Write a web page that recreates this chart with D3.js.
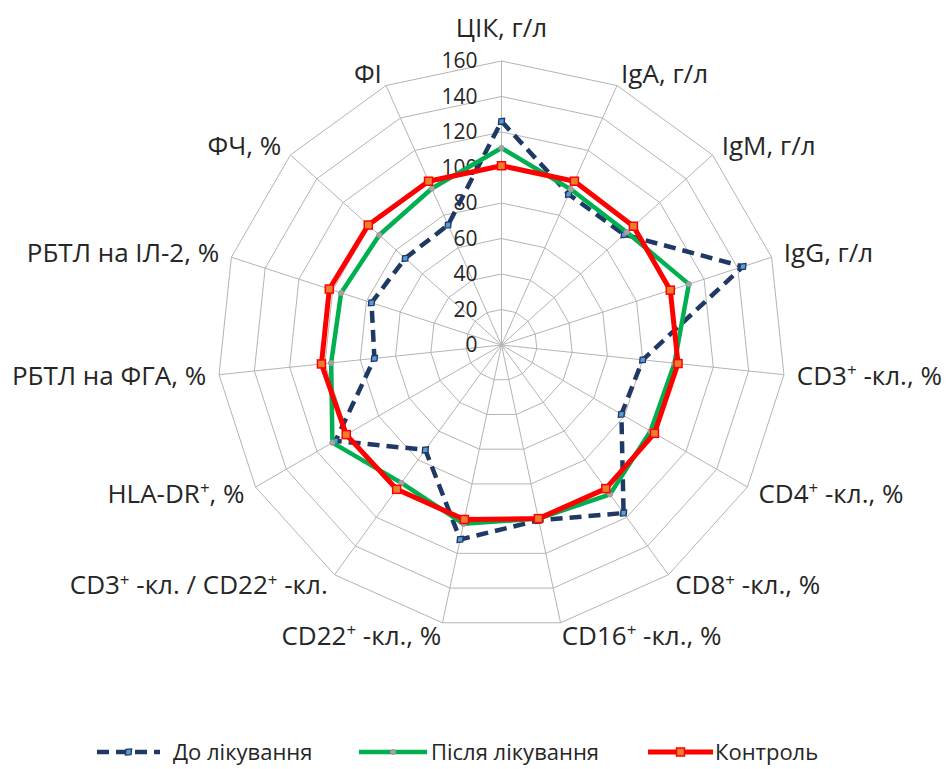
<!DOCTYPE html>
<html>
<head>
<meta charset="utf-8">
<script src="https://cdn.jsdelivr.net/npm/d3@7"></script>
<style>
  html, body { margin: 0; padding: 0; background: #ffffff; }
  svg text { font-family: "Open Sans", "Noto Sans", sans-serif; fill: #262626; }
</style>
</head>
<body>
<svg id="chart" width="950" height="769"></svg>
<script>
// Indicator axes, clockwise from the top
const categories = [
  "ЦІК, г/л", "IgA, г/л", "IgM, г/л", "IgG, г/л",
  "CD3+ -кл., %", "CD4+ -кл., %", "CD8+ -кл., %", "CD16+ -кл., %",
  "CD22+ -кл., %", "CD3+ -кл. / CD22+ -кл.", "HLA-DR+, %",
  "РБТЛ на ФГА, %", "РБТЛ на ІЛ-2, %", "ФЧ, %", "ФІ"
];

// Values, % of control level
const beforeTreatment = [126, 93, 93, 143, 80, 78, 117, 101, 112, 73, 108, 72, 77, 73, 74];
const afterTreatment  = [111, 96, 95, 111, 98, 97, 104, 100, 103, 96, 110, 96.5, 95, 92.6, 96.5];
const controlGroup    = [101, 101, 100, 100, 100, 99.5, 100, 100, 100.5, 100.5, 101, 102, 102, 101, 101];

const tickValues = [0, 20, 40, 60, 80, 100, 120, 140, 160];

const seriesNames = ["До лікування", "Після лікування", "Контроль"];

const svg = d3.select("#chart");
const cx = 501.5, cy = 345;
const n = categories.length;
const r = d3.scaleLinear().domain([0, 160]).range([0, 284]);
const angle = i => i * 2 * Math.PI / n;
const px = (i, v) => cx + r(v) * Math.sin(angle(i));
const py = (i, v) => cy - r(v) * Math.cos(angle(i));

const gridColor = "#b4b4b4";

// Web grid rings
const grid = svg.append("g");
tickValues.filter(t => t > 0).forEach(t => {
  grid.append("polygon")
    .attr("points", d3.range(n).map(i => [px(i, t), py(i, t)].join(",")).join(" "))
    .attr("fill", "none").attr("stroke", gridColor).attr("stroke-width", 1);
});
// Spokes
d3.range(n).forEach(i => {
  grid.append("line")
    .attr("x1", cx).attr("y1", cy)
    .attr("x2", px(i, 160)).attr("y2", py(i, 160))
    .attr("stroke", gridColor).attr("stroke-width", 1);
});

// Radial value labels
svg.append("g").selectAll("text").data(tickValues).join("text")
  .attr("x", cx - 24)
  .attr("y", d => cy - r(d))
  .attr("dy", "0.35em")
  .attr("text-anchor", "end")
  .attr("font-size", 21)
  .text(d => d);

// Category labels with superscript "+"
function writeLabel(sel, str, size) {
  const parts = str.split(/(\+)/);
  let shifted = false;
  parts.forEach(p => {
    if (p === "+") {
      sel.append("tspan").attr("font-size", size * 0.65).attr("dy", -size * 0.34).text("+");
      shifted = true;
    } else if (p.length) {
      const ts = sel.append("tspan").text(p);
      if (shifted) { ts.attr("dy", size * 0.34); shifted = false; }
    }
  });
}
const labelSize = 26;
const labels = svg.append("g");
categories.forEach((c, i) => {
  const a = angle(i);
  const s = Math.sin(a), co = Math.cos(a);
  const vx = px(i, 160), vy = py(i, 160);
  let x, y, anchor;
  if (i === 0) {
    x = vx; y = vy - 33; anchor = "middle";
  } else {
    const off = 15 * Math.abs(s) - 2;
    x = s > 0 ? vx + off : vx - off;
    y = vy - co * 13;
    anchor = s > 0 ? "start" : "end";
  }
  const t = labels.append("text")
    .attr("x", x).attr("y", y).attr("dy", "0.35em")
    .attr("text-anchor", anchor)
    .attr("font-size", labelSize);
  writeLabel(t, c, labelSize);
});

// Series
const line = d3.line().x(d => d[0]).y(d => d[1]);
function ringPoints(vals) {
  const pts = vals.map((v, i) => [px(i, v), py(i, v)]);
  pts.push(pts[0]);
  return pts;
}

const styles = [
  { data: beforeTreatment, color: "#1f3864", width: 4.5, dash: "12,7", marker: "diamond" },
  { data: afterTreatment,  color: "#00b050", width: 4.5, dash: null,   marker: "circle" },
  { data: controlGroup,    color: "#ff0000", width: 5,   dash: null,   marker: "square" }
];

function drawMarker(g, kind, x, y) {
  if (kind === "diamond") {
    g.append("path")
      .attr("d", d3.symbol().type(d3.symbolDiamond).size(45)())
      .attr("transform", `translate(${x},${y}) rotate(45) scale(1,0.7)`)
      .attr("fill", "#5b9bd5").attr("stroke", "#1f3864").attr("stroke-width", 1.5);
  } else if (kind === "circle") {
    g.append("circle").attr("cx", x).attr("cy", y).attr("r", 2.6)
      .attr("fill", "#a5a5a5").attr("stroke", "#9a9a9a").attr("stroke-width", 1);
  } else {
    g.append("rect").attr("x", x - 4).attr("y", y - 4).attr("width", 8).attr("height", 8)
      .attr("fill", "#ed7d31").attr("stroke", "#ff0000").attr("stroke-width", 1.5);
  }
}

styles.forEach(st => {
  const g = svg.append("g");
  g.append("path")
    .attr("d", line(ringPoints(st.data)))
    .attr("fill", "none")
    .attr("stroke", st.color)
    .attr("stroke-width", st.width)
    .attr("stroke-dasharray", st.dash)
    .attr("stroke-linejoin", "round");
  st.data.forEach((v, i) => drawMarker(g, st.marker, px(i, v), py(i, v)));
});

// Legend
const legendY = 752;
const legendItems = [
  { x1: 97,  x2: 160, tx: 173, style: styles[0] },
  { x1: 359, x2: 427, tx: 431, style: styles[1] },
  { x1: 648, x2: 713, tx: 715, style: styles[2] }
];
const lg = svg.append("g");
legendItems.forEach((it, k) => {
  lg.append("line")
    .attr("x1", it.x1).attr("x2", it.x2).attr("y1", legendY).attr("y2", legendY)
    .attr("stroke", it.style.color).attr("stroke-width", it.style.width)
    .attr("stroke-dasharray", it.style.dash);
  drawMarker(lg, it.style.marker, (it.x1 + it.x2) / 2, legendY);
  lg.append("text").attr("x", it.tx).attr("y", legendY).attr("dy", "0.35em")
    .attr("font-size", 22).text(seriesNames[k]);
});
</script>
</body>
</html>
